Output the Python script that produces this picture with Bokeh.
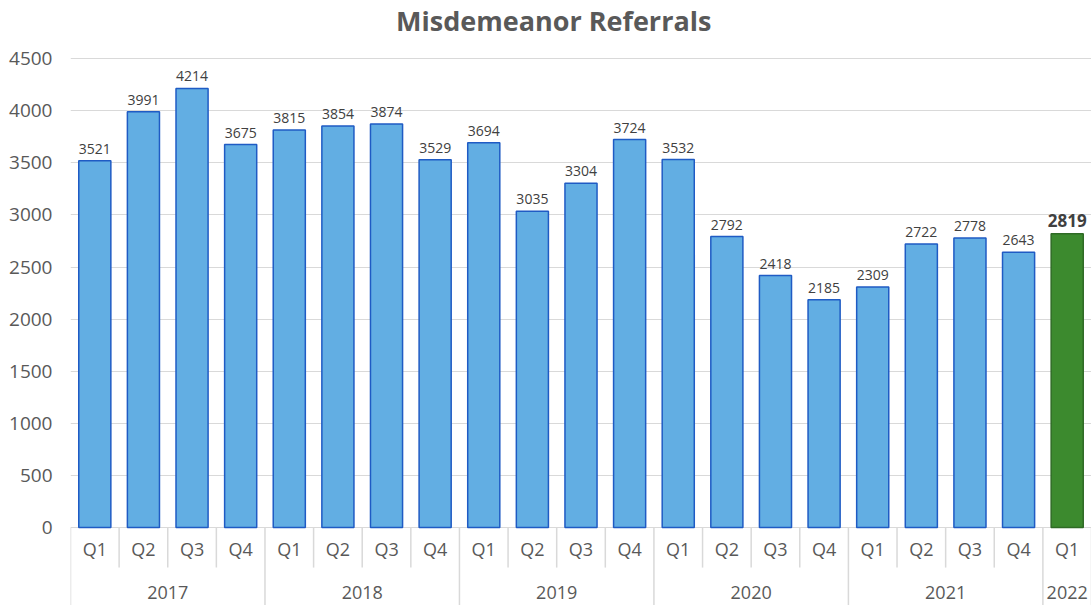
from bokeh.plotting import figure
from bokeh.models import FactorRange, Range1d, FixedTicker, ColumnDataSource, Label
from bokeh.core.properties import value
from bokeh.embed import file_html
from bokeh.resources import INLINE

title_text = "Misdemeanor Referrals"
years = ["2017", "2018", "2019", "2020", "2021", "2022"]
quarters = [["Q1", "Q2", "Q3", "Q4"]] * 5 + [["Q1"]]
referrals = [3521, 3991, 4214, 3675, 3815, 3854, 3874, 3529, 3694, 3035, 3304,
             3724, 3532, 2792, 2418, 2185, 2309, 2722, 2778, 2643, 2819]
y_ticks = [0, 500, 1000, 1500, 2000, 2500, 3000, 3500, 4000, 4500]

FONT = "Open Sans"
GRID = "#D9D9D9"
TXT = "#595959"

factors = [(y, q) for y, qs in zip(years, quarters) for q in qs]
n = len(factors)

p = figure(width=1091, height=605, output_backend="svg", toolbar_location=None,
           x_range=FactorRange(factors=factors, factor_padding=0, group_padding=0,
                               subgroup_padding=0, range_padding=0),
           y_range=Range1d(-748, 5058),
           min_border_left=70, min_border_right=0, min_border_top=0, min_border_bottom=0)
p.outline_line_color = None
p.background_fill_color = "white"

# chart title, placed above the top gridline
p.add_layout(Label(x=n / 2 - 0.5, y=4500, y_offset=38, x_offset=-3, text=title_text,
                   text_align="center", text_baseline="middle", text_font=FONT,
                   text_font_size="27px", text_font_style="bold", text_color=TXT))

# axes
p.xaxis.visible = False
p.yaxis.ticker = FixedTicker(ticks=y_ticks)
p.yaxis.axis_line_color = None
p.yaxis.major_tick_line_color = None
p.yaxis.minor_tick_line_color = None
p.yaxis.major_label_text_font = FONT
p.yaxis.major_label_text_font_size = "19px"
p.yaxis.major_label_text_color = TXT
p.yaxis.major_label_standoff = 12
p.xgrid.grid_line_color = None
p.ygrid.grid_line_color = GRID
p.ygrid.grid_line_width = 1.2

# bars
last = n - 1
fills = ["#3C8A2E" if i == last else "#62AEE3" for i in range(n)]
lines = ["#2F6B25" if i == last else "#1F5BC4" for i in range(n)]
src = ColumnDataSource(dict(x=factors, top=referrals, fill=fills, line=lines))
p.vbar(x="x", top="top", width=0.66, source=src, fill_color="fill",
       line_color="line", line_width=1.5)

# value labels
norm = ColumnDataSource(dict(x=factors[:last], y=referrals[:last],
                             t=[str(v) for v in referrals[:last]]))
bold = ColumnDataSource(dict(x=factors[last:], y=referrals[last:],
                             t=[str(v) for v in referrals[last:]]))
p.text(x="x", y="y", text="t", source=norm, text_align="center",
       text_baseline="bottom", y_offset=-7, text_font=value(FONT),
       text_font_size="14px", text_color="#404040")
p.text(x="x", y="y", text="t", source=bold, text_align="center",
       text_baseline="bottom", y_offset=-7, text_font=value(FONT),
       text_font_size="17px", text_font_style="bold", text_color="#404040")

# category axis (two levels) drawn in the frame below zero
qsep_x = []
ysep_x = []
for i, (yr, q) in enumerate(factors):
    left = (yr, q, -0.5)
    if i == 0 or factors[i - 1][0] != yr:
        ysep_x.append(left)
    else:
        qsep_x.append(left)
ysep_x.append(factors[-1] + (0.5,))

p.segment(x0=qsep_x, x1=qsep_x, y0=[0] * len(qsep_x), y1=[-384] * len(qsep_x),
          line_color=GRID, line_width=1.5)
p.segment(x0=ysep_x, x1=ysep_x, y0=[0] * len(ysep_x), y1=[-760] * len(ysep_x),
          line_color=GRID, line_width=1.5)

p.text(x=factors, y=[-201] * n, text=[q for _, q in factors], text_align="center",
       text_baseline="middle", text_font=value(FONT), text_font_size="18px",
       text_color=TXT)
p.text(x=years, y=[-624] * len(years), text=years, text_align="center",
       text_baseline="middle", text_font=value(FONT), text_font_size="18px",
       text_color=TXT)

open("out.html", "w").write(file_html(p, INLINE))
